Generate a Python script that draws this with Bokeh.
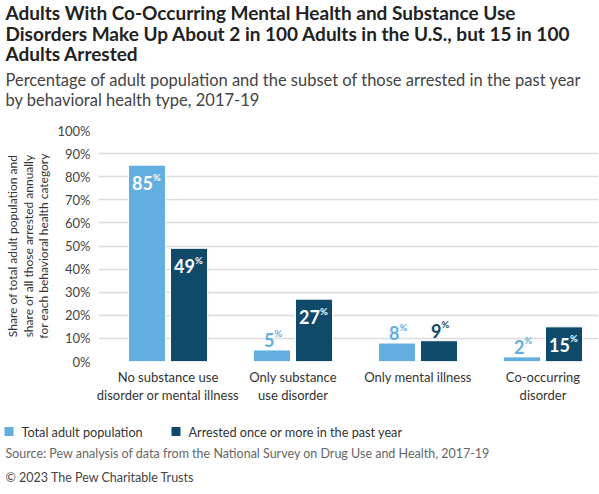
from bokeh.plotting import figure
from bokeh.models import ColumnDataSource, Label, FixedTicker, Range1d
from bokeh.core.properties import value
from bokeh.embed import file_html
from bokeh.resources import INLINE

# ---------------- data ----------------
categories = ["No substance use\ndisorder or mental illness",
              "Only substance\nuse disorder",
              "Only mental illness",
              "Co-occurring\ndisorder"]
total_population = [85, 5, 8, 2]
arrested = [49, 27, 9, 15]
series_names = ["Total adult population", "Arrested once or more in the past year"]
y_ticks = [0, 10, 20, 30, 40, 50, 60, 70, 80, 90, 100]
y_tick_labels = ["0%", "10%", "20%", "30%", "40%", "50%", "60%", "70%", "80%", "90%", "100%"]

title_lines = ["Adults With Co-Occurring Mental Health and Substance Use",
               "Disorders Make Up About 2 in 100 Adults in the U.S., but 15 in 100",
               "Adults Arrested"]
subtitle_lines = ["Percentage of adult population and the subset of those arrested in the past year",
                  "by behavioral health type, 2017-19"]
y_axis_title = ("Share of total adult population and\n"
                "share of all those arrested annually\n"
                "for each behavioral health category")
source_text = "Source: Pew analysis of data from the National Survey on Drug Use and Health, 2017-19"
copyright_text = "\u00a9 2023 The Pew Charitable Trusts"

# ---------------- style ----------------
W = 599
TOP_H = 118
MAIN_H = 302          # page y 118 .. 420
FOOT_H = 494 - TOP_H - MAIN_H
FL, FR = 98, 598
FT_IN, FB_IN = 12, 243   # frame top/bottom inside main figure (130 / 361 on page)
CAT_W = 125.0
CAT0 = 167.5
LIGHT = "#63AEE1"
DARK = "#0F4A6B"
FONT = "Lato"


def text_panel(h):
    f = figure(width=W, height=h, output_backend="svg", toolbar_location=None,
               x_range=Range1d(0, W), y_range=Range1d(h, 0),
               x_axis_location=None, y_axis_location=None,
               min_border=0, min_border_left=0, min_border_right=0,
               min_border_top=0, min_border_bottom=0)
    f.outline_line_color = None
    f.xgrid.visible = False
    f.ygrid.visible = False
    f.background_fill_color = "white"
    f.border_fill_color = "white"
    return f


def add_label(f, text, px, py, size, color="#222222", style="normal"):
    f.add_layout(Label(x=px, y=py, text=text, text_font=FONT, text_font_size=size,
                       text_color=color, text_font_style=style,
                       text_align="left", text_baseline="middle"))


# ---------------- header ----------------
top = text_panel(TOP_H)
for i, line in enumerate(title_lines):
    add_label(top, line, 5, 12 + 20.5 * i, "19px", "#222222", "bold")
for i, line in enumerate(subtitle_lines):
    add_label(top, line, 5, 79 + 20 * i, "16.5px", "#444444")

# ---------------- main chart ----------------
x0 = (FL - CAT0) / CAT_W
x1 = (FR - CAT0) / CAT_W
p = figure(width=W, height=MAIN_H, output_backend="svg", toolbar_location=None,
           x_range=Range1d(x0, x1), y_range=Range1d(0, 100),
           min_border_left=FL, min_border_right=W - FR, min_border_top=FT_IN,
           min_border_bottom=MAIN_H - FB_IN)
p.outline_line_color = None
p.background_fill_color = "white"
p.border_fill_color = "white"

p.xaxis.ticker = FixedTicker(ticks=list(range(len(categories))))
p.xaxis.major_label_overrides = {i: c for i, c in enumerate(categories)}
p.xaxis.axis_line_color = None
p.xaxis.major_tick_line_color = None
p.xaxis.minor_tick_line_color = None
p.xaxis.major_tick_out = 0
p.xaxis.major_tick_in = 0
p.xaxis.minor_tick_out = 0
p.xaxis.major_label_text_font = FONT
p.xaxis.major_label_text_font_size = "13px"
p.xaxis.major_label_text_color = "#333333"
p.xaxis.major_label_text_line_height = 1.16
p.xaxis.major_label_standoff = 7

p.yaxis.ticker = FixedTicker(ticks=y_ticks)
p.yaxis.major_label_overrides = {t: l for t, l in zip(y_ticks, y_tick_labels)}
p.yaxis.axis_line_color = None
p.yaxis.major_tick_line_color = None
p.yaxis.minor_tick_line_color = None
p.yaxis.major_tick_out = 0
p.yaxis.major_tick_in = 0
p.yaxis.minor_tick_out = 0
p.yaxis.major_label_text_font = FONT
p.yaxis.major_label_text_font_size = "13px"
p.yaxis.major_label_text_color = "#444444"
p.yaxis.major_label_standoff = 8
p.yaxis.axis_label = y_axis_title
p.yaxis.axis_label_text_font = FONT
p.yaxis.axis_label_text_font_size = "12px"
p.yaxis.axis_label_text_font_style = "normal"
p.yaxis.axis_label_text_color = "#333333"
p.yaxis.axis_label_text_line_height = 1.05
p.yaxis.axis_label_standoff = 3

p.xgrid.grid_line_color = None
p.ygrid.grid_line_color = "#DCDCDC"
p.ygrid.grid_line_width = 1.5

BAR_W = 37 / CAT_W
OFF = 21 / CAT_W
xs = list(range(len(categories)))
src_a = ColumnDataSource(dict(x=[x - OFF for x in xs], top=total_population))
src_b = ColumnDataSource(dict(x=[x + OFF for x in xs], top=arrested))
p.vbar(x="x", top="top", width=BAR_W, source=src_a, fill_color=LIGHT,
       line_color="white", line_width=1)
p.vbar(x="x", top="top", width=BAR_W, source=src_b, fill_color=DARK,
       line_color="white", line_width=1)


def label_source(xvals, vals, color):
    d = dict(x=[], y=[], xo=[], yo=[], pyo=[], c=[], t=[], pct=[])
    for x, v in zip(xvals, vals):
        inside = v >= 12
        yo = 18 if inside else -10
        d["x"].append(x)
        d["y"].append(v)
        d["xo"].append(6 if v >= 10 else 2.5)
        d["yo"].append(yo)
        d["pyo"].append(yo - 6)
        d["c"].append("white" if inside else color)
        d["t"].append(str(v))
        d["pct"].append("%")
    return ColumnDataSource(d)


for xvals, vals, color in [([x - OFF for x in xs], total_population, LIGHT),
                           ([x + OFF for x in xs], arrested, DARK)]:
    s = label_source(xvals, vals, color)
    p.text(x="x", y="y", text="t", x_offset="xo", y_offset="yo", source=s,
           text_color="c", text_font=value(FONT), text_font_style="bold",
           text_font_size="18px", text_align="right", text_baseline="alphabetic")
    p.text(x="x", y="y", text="pct", x_offset="xo", y_offset="pyo", source=s,
           text_color="c", text_font=value(FONT), text_font_style="bold",
           text_font_size="9.5px", text_align="left", text_baseline="alphabetic")

# ---------------- footer ----------------
foot = text_panel(FOOT_H)
LEG_Y = 11
leg_src = ColumnDataSource(dict(x=[8.5, 175.5], y=[LEG_Y, LEG_Y], c=[LIGHT, DARK],
                                tx=[21, 188], t=series_names))
foot.rect(x="x", y="y", width=9, height=9, source=leg_src, fill_color="c",
          line_color=None)
foot.text(x="tx", y="y", text="t", source=leg_src, text_font=value(FONT),
          text_font_size="12.7px", text_color="#333333", text_baseline="middle",
          text_align="left")
add_label(foot, source_text, 5, 33, "12.5px", "#666666")
add_label(foot, copyright_text, 5, 57, "12.5px", "#444444")

open("out.html", "w").write(file_html([top, p, foot], INLINE))
